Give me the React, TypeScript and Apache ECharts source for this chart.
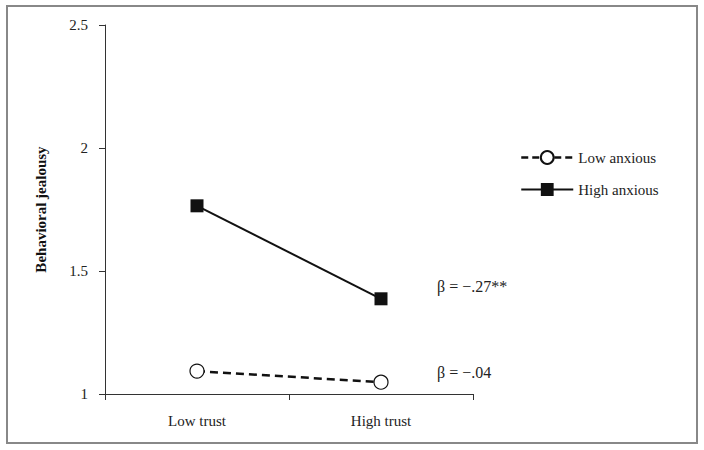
import React, { useEffect, useRef } from "react";
import * as echarts from "echarts";

const categories = ["Low trust", "High trust"];
const lowAnxious = [1.093, 1.048];
const highAnxious = [1.765, 1.387];
const yTicks = [1, 1.5, 2, 2.5];
const annotations = [
  { text: "β = −.27**", value: 1.45 },
  { text: "β = −.04", value: 1.1 },
];

const FONT = "Liberation Serif";

export default function App() {
  const ref = useRef<HTMLDivElement>(null);
  useEffect(() => {
    document.body.style.margin = "0";
    const chart = echarts.init(ref.current!, null, { renderer: "svg" });
    const top = 25;
    const bottom = 56;
    const h = 450 - top - bottom;
    const yMin = yTicks[0];
    const yMax = yTicks[yTicks.length - 1];
    const yOf = (v: number) => top + h * (1 - (v - yMin) / (yMax - yMin));
    chart.setOption({
      animation: false,
      backgroundColor: "#fff",
      textStyle: { fontFamily: FONT },
      grid: { left: 105, right: 231, top, bottom },
      xAxis: {
        type: "category",
        data: categories,
        boundaryGap: true,
        axisLine: { lineStyle: { color: "#333", width: 1 } },
        axisTick: { show: true, length: 6, inside: false, lineStyle: { color: "#333" } },
        axisLabel: { color: "#222", fontSize: 15, fontFamily: FONT, margin: 19 },
      },
      yAxis: {
        type: "value",
        min: yMin,
        max: yMax,
        interval: 0.5,
        name: "Behavioral jealousy",
        nameLocation: "middle",
        nameGap: 57,
        nameRotate: 90,
        nameTextStyle: { color: "#111", fontSize: 15, fontWeight: "bold", fontFamily: FONT },
        axisLine: { show: true, lineStyle: { color: "#333", width: 1 } },
        axisTick: { show: true, length: 6, lineStyle: { color: "#333" } },
        splitLine: { show: false },
        axisLabel: {
          color: "#222",
          fontSize: 15,
          fontFamily: FONT,
          margin: 17,
          formatter: (v: number) => String(v),
        },
      },
      legend: {
        orient: "vertical",
        left: 515,
        top: 145,
        itemGap: 17,
        itemWidth: 52,
        itemHeight: 16,
        textStyle: { color: "#222", fontSize: 15, fontFamily: FONT },
        data: [
          { name: "Low anxious", lineStyle: { type: [7, 4], width: 2.5 } },
          { name: "High anxious" },
        ],
      },
      series: [
        {
          name: "Low anxious",
          type: "line",
          data: lowAnxious,
          symbol: "circle",
          symbolSize: 14,
          lineStyle: { color: "#111", width: 2.5, type: [8, 5] },
          itemStyle: { color: "#fff", borderColor: "#111", borderWidth: 1.2 },
          z: 3,
        },
        {
          name: "High anxious",
          type: "line",
          data: highAnxious,
          symbol: "rect",
          symbolSize: 13,
          lineStyle: { color: "#111", width: 2, type: "solid" },
          itemStyle: { color: "#111", borderColor: "#111", borderWidth: 0 },
          z: 3,
        },
      ],
      graphic: [
        {
          type: "rect",
          shape: { x: 7, y: 6, width: 690, height: 437 },
          style: { fill: "none", stroke: "#888", lineWidth: 2 },
          silent: true,
        },
        ...annotations.map((a) => ({
          type: "text",
          left: 437,
          top: yOf(a.value) - 5,
          style: { text: a.text, fill: "#222", fontSize: 16, fontFamily: FONT },
        })),
      ],
    });
    return () => chart.dispose();
  }, []);
  return <div ref={ref} style={{ width: 704, height: 450 }} />;
}
